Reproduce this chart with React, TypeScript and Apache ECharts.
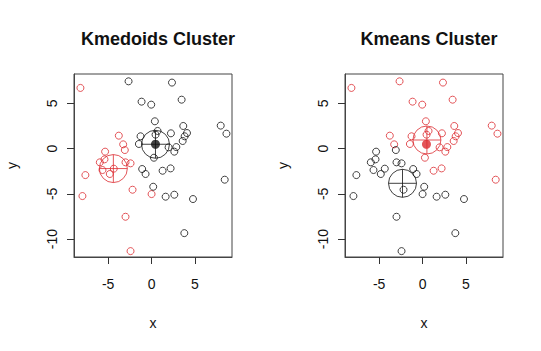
import React, { useEffect, useRef } from "react";
import * as echarts from "echarts";

// Point coordinates
const xs: number[] = [
  -8.19, -2.65, 2.35, 3.46, -1.15, -0.04, 0.38, 3.65, 0.69, 2.23, 4.08, 3.81, -1.27, 0.46, 3.58, -1.46,
  1.96, 2.85, 2.62, 0.27, 7.96, 8.62, -1.08, -0.69, 1.27, 2.19, 0.19, 8.42, 1.62, 2.62, 4.77, 3.77,
  -3.77, -3.27, -3.08, -5.35, -5.96, -5.42, -5.65, -4.81, -4.35, -3.0, -2.42, -7.62, -2.19, -7.96, 0.0, -3.0, -2.42,
];
const ys: number[] = [
  6.72, 7.45, 7.31, 5.42, 5.2, 4.87, 3.03, 2.51, 1.96, 1.7, 1.73, 1.37, 1.37, 1.55, 0.85, 0.52,
  0.15, 0.18, -0.33, -1.0, 2.55, 1.66, -2.25, -2.8, -2.44, -2.18, -4.21, -3.43, -5.31, -5.09, -5.57, -9.34,
  1.44, 0.48, -0.15, -0.33, -1.51, -1.18, -2.36, -2.8, -2.21, -1.51, -1.62, -2.92, -4.54, -5.24, -5.02, -7.53, -11.33,
];
// cluster labels: 1 = red, 0 = black
const medoidLabels: number[] = [
  1, 0, 0, 0, 0, 0, 0, 0, 0, 0, 0, 0, 0, 0, 0, 0,
  0, 0, 0, 0, 0, 0, 0, 0, 0, 0, 0, 0, 0, 0, 0, 0,
  1, 1, 1, 1, 1, 1, 1, 1, 1, 1, 1, 1, 1, 1, 1, 1, 1,
];
const kmeansLabels: number[] = [
  1, 1, 1, 1, 1, 1, 1, 1, 1, 1, 1, 1, 1, 1, 1, 1,
  1, 1, 1, 1, 1, 1, 0, 0, 1, 1, 0, 1, 0, 0, 0, 0,
  1, 1, 0, 0, 0, 0, 0, 0, 0, 0, 0, 0, 0, 0, 0, 0, 0,
];
// cluster centres [red, black]
const medoidCentersX: number[] = [-4.4, 0.45];
const medoidCentersY: number[] = [-2.2, 0.49];
const kmeansCentersX: number[] = [0.5, -2.31];
const kmeansCentersY: number[] = [0.96, -3.83];
// highlighted (filled) point
const filledX: number[] = [0.45];
const filledY: number[] = [0.49];

const xTicks: number[] = [-5, 0, 5];
const yTicks: number[] = [-10, -5, 0, 5];
const titles: string[] = ["Kmedoids Cluster", "Kmeans Cluster"];

const RED = "#dc2a30";
const BLACK = "#111111";
const FONT = "Liberation Sans, Arial, Helvetica, sans-serif";
const CROSS =
  "path://M0 -10A10 10 0 1 1 0 10A10 10 0 1 1 0 -10ZM-10 0L10 0M0 -10L0 10";

function pts(labels: number[], lab: number) {
  const out: number[][] = [];
  for (let i = 0; i < xs.length; i++) if (labels[i] === lab) out.push([xs[i], ys[i]]);
  return out;
}

export default function App() {
  const ref = useRef<HTMLDivElement>(null);
  useEffect(() => {
    if (!ref.current) return;
    const chart = echarts.init(ref.current, undefined, { renderer: "svg" });
    const gridLefts = [74, 345];
    const xAxes = [0, 1].map((i) => ({
      gridIndex: i,
      type: "value",
      position: "bottom",
      min: -8.93,
      max: 9.26,
      axisLine: { show: true, onZero: false, lineStyle: { color: "#444", width: 1 } },
      splitLine: { show: false },
      axisTick: { show: true, length: 7, customValues: xTicks, lineStyle: { color: "#333" } },
      axisLabel: { customValues: xTicks, fontSize: 14, color: "#111", margin: 20, fontFamily: FONT },
      name: "x",
      nameLocation: "middle",
      nameGap: 59,
      nameTextStyle: { fontSize: 14, color: "#111", fontFamily: FONT },
    }));
    const yAxes = [0, 1].map((i) => ({
      gridIndex: i,
      type: "value",
      position: "left",
      min: -11.98,
      max: 8.26,
      axisLine: { show: true, onZero: false, lineStyle: { color: "#444", width: 1 } },
      splitLine: { show: false },
      axisTick: { show: true, length: 7, customValues: yTicks, lineStyle: { color: "#333" } },
      axisLabel: { customValues: yTicks, fontSize: 14, color: "#111", margin: 15, rotate: 90, fontFamily: FONT },
      name: "y",
      nameLocation: "middle",
      nameGap: 55,
      nameTextStyle: { fontSize: 14, color: "#111", fontFamily: FONT },
    }));
    const hollow = (color: string) => ({ color: "rgba(0,0,0,0)", borderColor: color, borderWidth: 1 });
    const series: any[] = [];
    const panels = [
      { labels: medoidLabels, cx: medoidCentersX, cy: medoidCentersY, filledColor: BLACK },
      { labels: kmeansLabels, cx: kmeansCentersX, cy: kmeansCentersY, filledColor: RED },
    ];
    panels.forEach((p, i) => {
      [1, 0].forEach((lab) => {
        series.push({
          type: "scatter",
          xAxisIndex: i,
          yAxisIndex: i,
          symbol: "circle",
          symbolSize: 7,
          itemStyle: hollow(lab === 1 ? RED : BLACK),
          data: pts(p.labels, lab),
          silent: true,
        });
      });
      series.push({
        type: "scatter",
        xAxisIndex: i,
        yAxisIndex: i,
        symbol: CROSS,
        symbolSize: 28,
        data: [
          { value: [p.cx[0], p.cy[0]], itemStyle: hollow(RED) },
          { value: [p.cx[1], p.cy[1]], itemStyle: hollow(BLACK) },
        ],
        silent: true,
      });
      series.push({
        type: "scatter",
        xAxisIndex: i,
        yAxisIndex: i,
        symbol: "circle",
        symbolSize: 9,
        itemStyle: { color: p.filledColor },
        data: filledX.map((x, k) => [x, filledY[k]]),
        silent: true,
      });
    });
    chart.setOption({
      animation: false,
      backgroundColor: "#ffffff",
      title: titles.map((t, i) => ({
        text: t,
        left: gridLefts[i] + 79,
        top: 25,
        textAlign: "center",
        textStyle: { fontSize: 18, fontWeight: "bold", color: "#111", fontFamily: FONT },
      })),
      grid: gridLefts.map((l) => ({
        left: l,
        top: 74,
        width: 158,
        height: 183,
        show: true,
        borderColor: "#444",
        borderWidth: 1,
        backgroundColor: "rgba(0,0,0,0)",
      })),
      xAxis: xAxes,
      yAxis: yAxes,
      series,
    });
    return () => chart.dispose();
  }, []);
  return (
    <div
      ref={ref}
      style={{ position: "fixed", left: 0, top: 0, width: 541, height: 351, background: "#fff" }}
    />
  );
}
